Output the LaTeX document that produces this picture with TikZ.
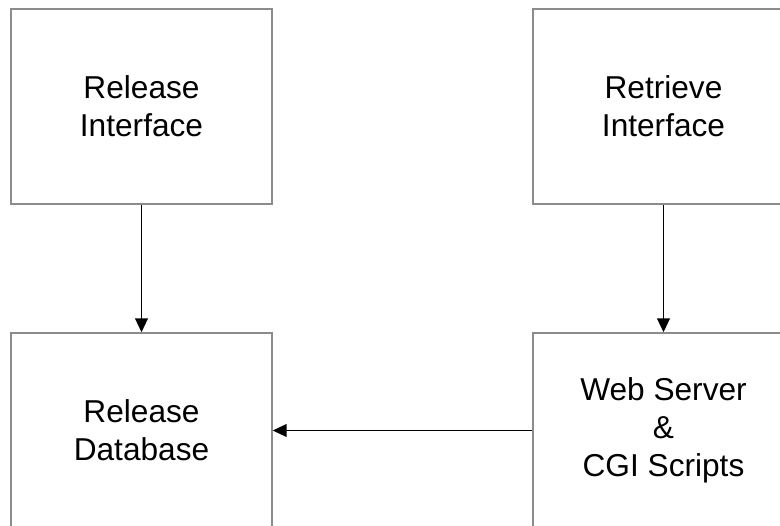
\documentclass[tikz,border=0pt]{standalone}
\usepackage{fontspec}
\setmainfont{Liberation Sans}
\usetikzlibrary{arrows.meta}
\begin{document}
\begin{tikzpicture}[x=0.025cm,y=-0.025cm,
      box/.style={draw=gray!90,line width=0.9pt,minimum width=6.525cm,
        minimum height=4.875cm,align=center,font=\fontsize{22.5}{27}\selectfont},
      pfeil/.style={line width=1.4pt,-{Triangle[length=10pt,width=9pt]}}]
    \clip (0,0) rectangle (780,525);
    \node[box] at (141.5,106.5) (A0) {Release\\Interface};
    \node[box] at (663.5,106.5) (A1) {Retrieve\\Interface};
    \node[box] at (141.5,430.5) (A2) {Release\\Database};
    \node[box] at (663.5,430.5) (A3) {Web Server\\\&\\CGI Scripts};
    \draw[pfeil] (A0)--(A2) ;
    \draw[pfeil] (A1)--(A3) ;
    \draw[pfeil] (A3)--(A2) ;
  \end{tikzpicture}
\end{document}
